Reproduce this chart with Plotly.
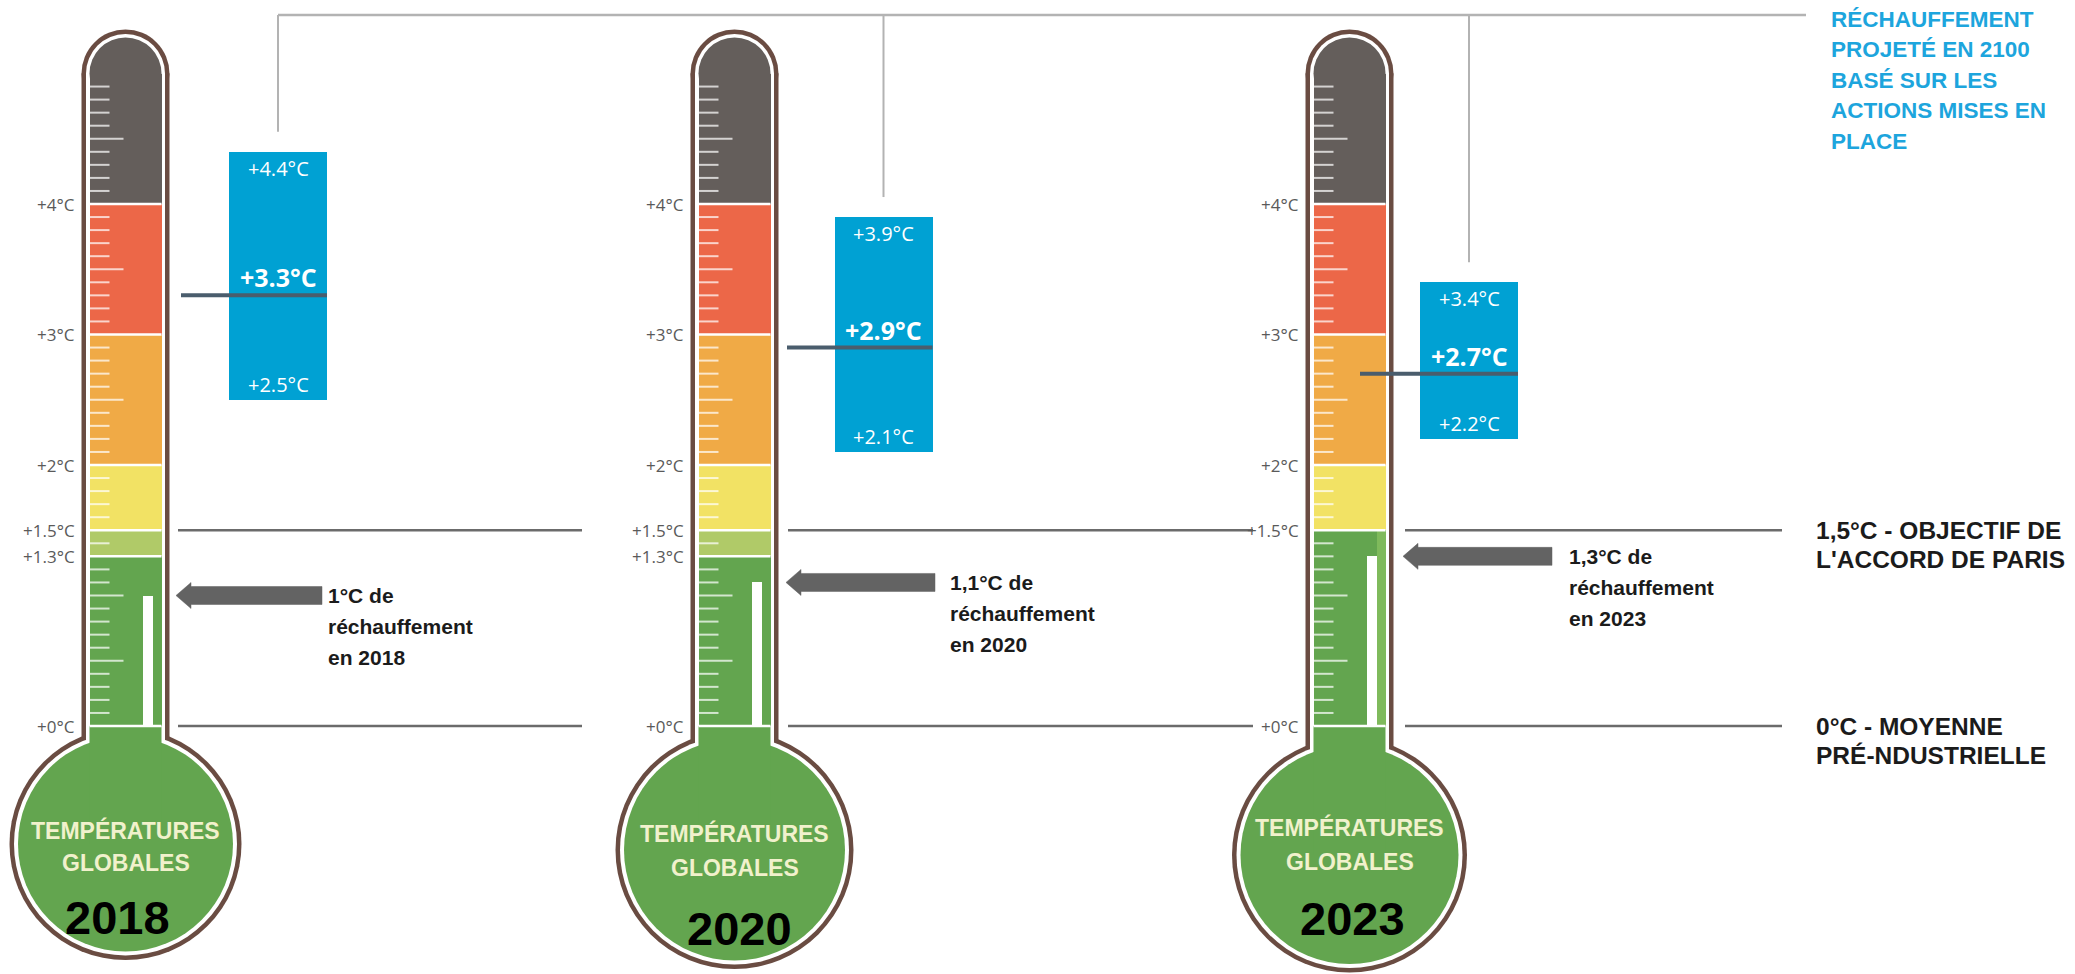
import plotly.graph_objects as go

# ---------------- data ----------------
years = ["2018", "2020", "2023"]
warming = [1.0, 1.1, 1.3]
warming_label = ["1°C de", "1,1°C de", "1,3°C de"]
proj_low = [2.5, 2.1, 2.2]
proj_mid = [3.3, 2.9, 2.7]
proj_high = [4.4, 3.9, 3.4]
band_edges = [
    [0, 1.3, 1.5, 2, 3, 4, 5],
    [0, 1.3, 1.5, 2, 3, 4, 5],
    [0, 1.5, 2, 3, 4, 5],
]
band_names = [
    ["green", "lightgreen", "yellow", "orange", "red", "gray"],
    ["green", "lightgreen", "yellow", "orange", "red", "gray"],
    ["green", "yellow", "orange", "red", "gray"],
]
tick_label_values = [
    [0, 1.3, 1.5, 2, 3, 4],
    [0, 1.3, 1.5, 2, 3, 4],
    [0, 1.5, 2, 3, 4],
]
paris_target = 1.5
preindustrial = 0.0

# ---------------- style / layout ----------------
COL = {
    "green": "#63A54F",
    "lightgreen": "#B0CA68",
    "yellow": "#F2E264",
    "orange": "#F0AA46",
    "red": "#EC6748",
    "gray": "#645E5B",
}
BROWN = "#6A4C42"
BLUE = "#00A1D3"
W, H = 2075, 974
PX = 130.5      # pixels per degree
Y0 = 726        # pixel row of 0 degree


def T(py):
    return (Y0 - py) / PX


def D(dpx):
    return dpx / PX


CX = [125.5, 734.5, 1349.5]
BULB_CY = [844, 850, 855]
BULB_R = [116, 119, 117.5]
OUT_HALF, WHITE_HALF, FILL_HALF = 44, 39.5, 36
BOX_CX = [278, 883.5, 1469]
BOX_W = 98
MEAN_START = [181, 787, 1360]
REF_SEG = [(178, 582), (788, 1253), (1405, 1782)]
ARROW_TIP = [176, 786, 1403]
ARROW_TAIL = [322, 935, 1552]
TEXT_X = [326, 948, 1567]
TXT1_Y = [830, 833, 827]
TXT2_Y = [863, 868, 862]
YEAR_Y = [917, 928, 918]
YEAR_X = [117, 739, 1352]
TOP_LINE_PY = 15
TOP_LINE_END = 1806
SANS = "Liberation Sans, Arial"

fig = go.Figure()
shapes = []
ann = []

for i in range(3):
    cx = CX[i]
    bcy = T(BULB_CY[i])
    r = BULB_R[i]
    top = band_edges[i][-1]
    for half, rr, col in [(OUT_HALF, r, BROWN), (WHITE_HALF, r - 4.5, "white")]:
        shapes.append(dict(type="circle", xref="x", yref="y", x0=cx - rr, x1=cx + rr,
                           y0=bcy - D(rr), y1=bcy + D(rr), fillcolor=col, line=dict(width=0), layer="below"))
        shapes.append(dict(type="rect", xref="x", yref="y", x0=cx - half, x1=cx + half,
                           y0=bcy, y1=top, fillcolor=col, line=dict(width=0), layer="below"))
        shapes.append(dict(type="circle", xref="x", yref="y", x0=cx - half, x1=cx + half,
                           y0=top - D(half), y1=top + D(half), fillcolor=col, line=dict(width=0), layer="below"))
    rr = r - 8.5
    shapes.append(dict(type="circle", xref="x", yref="y", x0=cx - rr, x1=cx + rr,
                       y0=bcy - D(rr), y1=bcy + D(rr), fillcolor=COL["green"], line=dict(width=0), layer="below"))
    shapes.append(dict(type="rect", xref="x", yref="y", x0=cx - FILL_HALF, x1=cx + FILL_HALF,
                       y0=bcy, y1=band_edges[i][0], fillcolor=COL["green"], line=dict(width=0), layer="below"))
    shapes.append(dict(type="circle", xref="x", yref="y", x0=cx - FILL_HALF, x1=cx + FILL_HALF,
                       y0=top - D(FILL_HALF), y1=top + D(FILL_HALF), fillcolor=COL["gray"],
                       line=dict(width=0), layer="below"))

    # colour bands
    edges = band_edges[i]
    for j, name in enumerate(band_names[i]):
        lo, hi = edges[j], edges[j + 1]
        fig.add_trace(go.Bar(x=[cx], base=[lo], y=[hi - lo], width=2 * FILL_HALF,
                             marker=dict(color=COL[name], line=dict(width=0)),
                             hoverinfo="skip", showlegend=False))
    # lighter strip at right of the green zone when 1.3 band is gone (2023)
    if band_names[i][1] != "lightgreen":
        fig.add_trace(go.Bar(x=[cx + 31.5], base=[edges[0]], y=[edges[1] - edges[0]], width=9,
                             marker=dict(color="#7FBA5C", line=dict(width=0)),
                             hoverinfo="skip", showlegend=False))
    # mercury column
    fig.add_trace(go.Bar(x=[cx + 22.5], base=[0], y=[warming[i]], width=10,
                         marker=dict(color="white", line=dict(width=0)),
                         hoverinfo="skip", showlegend=False))

    # graduation ticks
    tx, ty = [], []
    for k in range(1, 51):
        v = k / 10
        if any(abs(v - e) < 1e-9 for e in edges):
            continue
        long_ = (k % 5 == 0)
        x0 = cx - FILL_HALF
        tx += [x0, x0 + (34 if long_ else 20), None]
        ty += [v, v, None]
    fig.add_trace(go.Scatter(x=tx, y=ty, mode="lines", line=dict(color="rgba(255,255,255,0.72)", width=2),
                             hoverinfo="skip", showlegend=False))
    # band boundaries
    bx, by = [], []
    for e in edges[:-1]:
        bx += [cx - FILL_HALF, cx + FILL_HALF, None]
        by += [e, e, None]
    fig.add_trace(go.Scatter(x=bx, y=by, mode="lines", line=dict(color="white", width=2.5),
                             hoverinfo="skip", showlegend=False))

    # tick labels
    for v in tick_label_values[i]:
        ann.append(dict(x=cx - OUT_HALF - 5, y=v, xref="x", yref="y", text=f"+{v:g}°C",
                        xanchor="right", yanchor="middle", showarrow=False,
                        font=dict(family="Open Sans", size=17, color="#5a5a5a")))

    # reference lines
    x0, x1 = REF_SEG[i]
    for lvl in (paris_target, preindustrial):
        fig.add_trace(go.Scatter(x=[x0, x1], y=[lvl, lvl], mode="lines",
                                 line=dict(color="#6b6b6b", width=2.5), hoverinfo="skip", showlegend=False))

    # arrow
    tip, tail, w = ARROW_TIP[i], ARROW_TAIL[i], warming[i]
    hl, hh, sh = 15, 13, 9
    ax = [tip, tip + hl, tip + hl, tail, tail, tip + hl, tip + hl, tip]
    ay = [w, w + D(hh), w + D(sh), w + D(sh), w - D(sh), w - D(sh), w - D(hh), w]
    fig.add_trace(go.Scatter(x=ax, y=ay, mode="lines", fill="toself", fillcolor="#636363",
                             line=dict(color="#636363", width=0.5), hoverinfo="skip", showlegend=False))
    lines = [warming_label[i], "réchauffement", f"en {years[i]}"]
    for k, t in enumerate(lines):
        ann.append(dict(x=TEXT_X[i], y=w - D(31 * k), xref="x", yref="y", text=f"<b>{t}</b>",
                        xanchor="left", yanchor="middle", showarrow=False,
                        font=dict(family=SANS, size=21, color="#1b1b1b")))

    # bulb texts
    ann.append(dict(x=cx, y=T(TXT1_Y[i]), xref="x", yref="y", text="<b>TEMPÉRATURES</b>",
                    showarrow=False, xanchor="center", yanchor="middle",
                    font=dict(family=SANS, size=23, color="#F1F1CC")))
    ann.append(dict(x=cx, y=T(TXT2_Y[i]), xref="x", yref="y", text="<b>GLOBALES</b>",
                    showarrow=False, xanchor="center", yanchor="middle",
                    font=dict(family=SANS, size=23, color="#F1F1CC")))
    ann.append(dict(x=YEAR_X[i], y=T(YEAR_Y[i]), xref="x", yref="y", text=f"<b>{years[i]}</b>",
                    showarrow=False, xanchor="center", yanchor="middle",
                    font=dict(family=SANS, size=47, color="black")))

# projected warming boxes
fig.add_trace(go.Bar(x=BOX_CX, base=proj_low, y=[h - l for h, l in zip(proj_high, proj_low)], width=BOX_W,
                     marker=dict(color=BLUE, line=dict(width=0)), hoverinfo="skip", showlegend=False))
for i in range(3):
    fig.add_trace(go.Scatter(x=[MEAN_START[i], BOX_CX[i] + BOX_W / 2], y=[proj_mid[i], proj_mid[i]],
                             mode="lines", line=dict(color="#4A5D6D", width=4),
                             hoverinfo="skip", showlegend=False))
    ann.append(dict(x=BOX_CX[i], y=proj_high[i], xref="x", yref="y", text=f"+{proj_high[i]:.1f}°C",
                    xanchor="center", yanchor="top", yshift=-1, showarrow=False,
                    font=dict(family="Open Sans", size=20, color="white")))
    ann.append(dict(x=BOX_CX[i], y=proj_low[i], xref="x", yref="y", text=f"+{proj_low[i]:.1f}°C",
                    xanchor="center", yanchor="bottom", yshift=0, showarrow=False,
                    font=dict(family="Open Sans", size=20, color="white")))
    ann.append(dict(x=BOX_CX[i], y=proj_mid[i], xref="x", yref="y", text=f"<b>+{proj_mid[i]:.1f}°C</b>",
                    xanchor="center", yanchor="bottom", yshift=-1, showarrow=False,
                    font=dict(family="Open Sans", size=25, color="white")))
    # connector
    fig.add_trace(go.Scatter(x=[BOX_CX[i], BOX_CX[i]], y=[proj_high[i] + D(20), T(TOP_LINE_PY)],
                             mode="lines", line=dict(color="#b3b3b3", width=2),
                             hoverinfo="skip", showlegend=False))
fig.add_trace(go.Scatter(x=[BOX_CX[0], TOP_LINE_END], y=[T(TOP_LINE_PY), T(TOP_LINE_PY)],
                         mode="lines", line=dict(color="#b3b3b3", width=2.5),
                         hoverinfo="skip", showlegend=False))

# right-side legend texts
legend_blue = ["RÉCHAUFFEMENT", "PROJETÉ EN 2100", "BASÉ SUR LES", "ACTIONS MISES EN", "PLACE"]
for k, t in enumerate(legend_blue):
    ann.append(dict(x=1829, y=T(19 + 30.5 * k), xref="x", yref="y", text=f"<b>{t}</b>",
                    xanchor="left", yanchor="middle", showarrow=False,
                    font=dict(family=SANS, size=22.5, color="#1DA5DD")))
for k, t in enumerate(["1,5°C - OBJECTIF DE", "L'ACCORD DE PARIS"]):
    ann.append(dict(x=1814, y=paris_target - D(29 * k), xref="x", yref="y", text=f"<b>{t}</b>",
                    xanchor="left", yanchor="middle", showarrow=False,
                    font=dict(family=SANS, size=24.5, color="#1b1b1b")))
for k, t in enumerate(["0°C - MOYENNE", "PRÉ-NDUSTRIELLE"]):
    ann.append(dict(x=1814, y=preindustrial - D(29 * k), xref="x", yref="y", text=f"<b>{t}</b>",
                    xanchor="left", yanchor="middle", showarrow=False,
                    font=dict(family=SANS, size=24.5, color="#1b1b1b")))

fig.update_layout(
    width=W, height=H, margin=dict(l=0, r=0, t=0, b=0),
    paper_bgcolor="white", plot_bgcolor="white",
    barmode="overlay", bargap=0,
    xaxis=dict(range=[0, W], visible=False, fixedrange=True),
    yaxis=dict(range=[T(H), T(0)], visible=False, fixedrange=True),
    shapes=shapes, annotations=ann, showlegend=False,
)
fig.write_html("out.html")
